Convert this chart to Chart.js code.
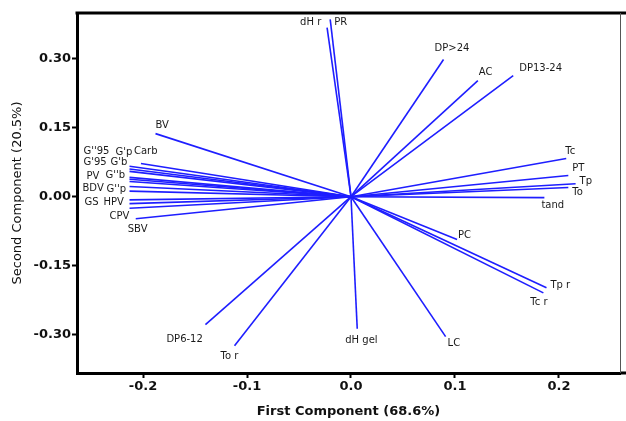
<!DOCTYPE html>
<html>
<head>
<meta charset="utf-8">
<script src="https://cdn.jsdelivr.net/npm/chart.js@4/dist/chart.umd.min.js"></script>
<style>
  html, body { margin: 0; padding: 0; background: #ffffff; }
  #wrap { width: 626px; height: 421px; }
</style>
</head>
<body>
<div id="wrap"><canvas id="c" width="626" height="421"></canvas></div>
<script>
// ---- Data (loadings) ----
const variables = ["dH r","PR","DP>24","AC","DP13-24","Tc","PT","Tp","To","tand","PC","Tp r","Tc r","LC","dH gel","To r","DP6-12","SBV","CPV","HPV","GS","G''p","BDV","G''b","PV","G'b","G'95","G'p","G''95","Carb","BV"];
const firstComponent  = [-0.023,-0.020,0.089,0.122,0.156,0.207,0.209,0.216,0.209,0.186,0.102,0.188,0.185,0.091,0.006,-0.112,-0.140,-0.207,-0.213,-0.213,-0.213,-0.213,-0.213,-0.213,-0.213,-0.213,-0.213,-0.213,-0.213,-0.202,-0.188];
const secondComponent = [0.367,0.385,0.298,0.252,0.263,0.083,0.046,0.028,0.020,-0.002,-0.093,-0.198,-0.209,-0.304,-0.287,-0.324,-0.278,-0.048,-0.025,-0.015,-0.007,0.012,0.022,0.033,0.038,0.042,0.055,0.060,0.066,0.072,0.137];
const xTickValues = [-0.2,-0.1,0.0,0.1,0.2];
const yTickValues = [-0.30,-0.15,0.00,0.15,0.30];
const xTitle = "First Component (68.6%)";
const yTitle = "Second Component (20.5%)";

// ---- Label placement (pixel offsets from each vector tip; layout only) ----
const labelOffsets = {
  "dH r":[-27,-5], "PR":[4,3], "DP>24":[-9,-11], "AC":[1,-8], "DP13-24":[6,-7],
  "Tc":[-1,-7], "PT":[4,-7], "Tp":[4,-2], "To":[4,5], "tand":[-3,8], "PC":[1,-4],
  "Tp r":[4,-2], "Tc r":[-13,10], "LC":[2,7], "dH gel":[-12,12], "To r":[-14,11],
  "DP6-12":[-39,15], "SBV":[-8,11], "CPV":[-20,8], "HPV":[-26,-1], "GS":[-45,3],
  "G''p":[-23,-2], "BDV":[-47,2], "G''b":[-24,-6], "PV":[-43,-3], "G'b":[-19,-15],
  "G'95":[-46,-9], "G'p":[-14,-17], "G''95":[-46,-15], "Carb":[-7,-12], "BV":[0,-8]
};

const LINE_COLOR = "rgb(30,30,255)";

const datasets = variables.map((name, i) => ({
  label: name,
  data: [{x: 0, y: 0}, {x: firstComponent[i], y: secondComponent[i]}],
  showLine: true,
  borderColor: LINE_COLOR,
  borderWidth: 1.6,
  pointRadius: 0,
  pointHoverRadius: 0,
  fill: false,
  tension: 0
}));

const labelPlugin = {
  id: "vectorLabels",
  afterDatasetsDraw(chart) {
    const ctx = chart.ctx;
    const xs = chart.scales.x, ys = chart.scales.y;
    ctx.save();
    ctx.font = "10px 'DejaVu Sans'";
    ctx.fillStyle = "#1a1a1a";
    ctx.textAlign = "left";
    ctx.textBaseline = "middle";
    variables.forEach((name, i) => {
      const px = xs.getPixelForValue(firstComponent[i]);
      const py = ys.getPixelForValue(secondComponent[i]);
      const off = labelOffsets[name] || [3, 0];
      ctx.fillText(name, px + off[0], py + off[1]);
    });
    ctx.restore();
  }
};

const framePlugin = {
  id: "frame",
  afterDraw(chart) {
    const ctx = chart.ctx;
    const a = chart.chartArea;
    ctx.save();
    ctx.strokeStyle = "#000";
    ctx.lineWidth = 3;
    ctx.beginPath();
    ctx.moveTo(a.left - 1.5, a.top);
    ctx.lineTo(chart.width, a.top);
    ctx.moveTo(a.right, a.bottom);
    ctx.lineTo(chart.width, a.bottom);
    ctx.stroke();
    ctx.lineWidth = 1;
    ctx.strokeStyle = "#555";
    ctx.beginPath();
    ctx.moveTo(Math.round(a.right) + 0.5, a.top);
    ctx.lineTo(Math.round(a.right) + 0.5, a.bottom);
    ctx.stroke();
    ctx.restore();
  }
};

new Chart(document.getElementById("c"), {
  type: "scatter",
  data: { datasets },
  options: {
    responsive: false,
    animation: false,
    events: [],
    layout: { padding: { left: 0, right: 6, top: 13, bottom: 0 } },
    plugins: { legend: { display: false }, tooltip: { enabled: false } },
    scales: {
      x: {
        type: "linear",
        min: -0.2635,
        max: 0.2587,
        afterBuildTicks: s => { s.ticks = xTickValues.map(v => ({ value: v })); },
        afterFit: s => { s.height = 48; },
        ticks: {
          font: { family: "'DejaVu Sans'", size: 13, weight: "bold" },
          color: "#111",
          padding: 1,
          maxRotation: 0,
          callback: v => Number(v).toFixed(1)
        },
        grid: { drawOnChartArea: false, drawTicks: true, tickLength: 5, tickWidth: 2, tickColor: "#000" },
        border: { display: true, color: "#000", width: 3 },
        title: {
          display: true, text: xTitle, color: "#111",
          font: { family: "'DejaVu Sans'", size: 13, weight: "bold" },
          padding: { top: 0, bottom: 2 }
        }
      },
      y: {
        type: "linear",
        min: -0.383,
        max: 0.399,
        afterBuildTicks: s => { s.ticks = yTickValues.map(v => ({ value: v })); },
        afterFit: s => { s.width = 77; },
        ticks: {
          font: { family: "'DejaVu Sans'", size: 13, weight: "bold" },
          color: "#111",
          padding: 1,
          callback: v => Number(v).toFixed(2)
        },
        grid: { drawOnChartArea: false, drawTicks: true, tickLength: 5, tickWidth: 2, tickColor: "#000" },
        border: { display: true, color: "#000", width: 3 },
        title: {
          display: true, text: yTitle, color: "#111",
          font: { family: "'DejaVu Sans'", size: 13, weight: "normal" },
          padding: { top: 10, bottom: 0 }
        }
      }
    }
  },
  plugins: [labelPlugin, framePlugin]
});
</script>
</body>
</html>
